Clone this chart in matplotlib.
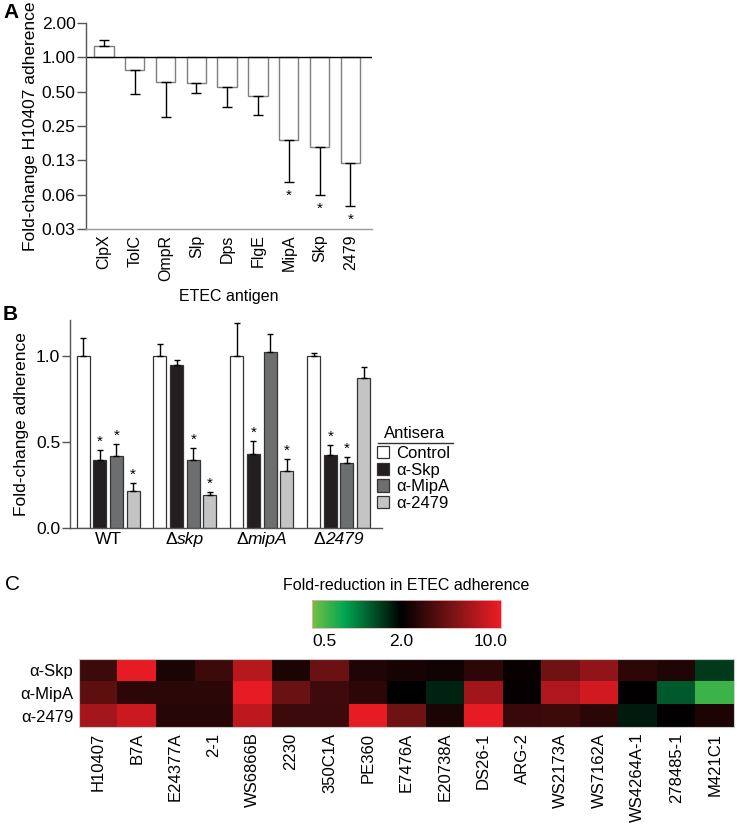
#!/usr/bin/env python3
import numpy as np
import matplotlib
matplotlib.use('Agg')
import matplotlib.pyplot as plt
from matplotlib.patches import Patch
from matplotlib.lines import Line2D
from matplotlib.colors import LinearSegmentedColormap, LogNorm
from matplotlib.offsetbox import TextArea, HPacker, AnnotationBbox

plt.rcParams.update({
    'font.family': ['Liberation Sans', 'DejaVu Sans'],
    'font.size': 12,
    'axes.linewidth': 1.0,
    'axes.edgecolor': '#555555',
})

# Panel A: fold-change H10407 adherence per antigen antiserum
antigens = ['ClpX', 'TolC', 'OmpR', 'Slp', 'Dps', 'FlgE', 'MipA', 'Skp', '2479']
fold_a = [1.26, 0.78, 0.61, 0.59, 0.55, 0.46, 0.19, 0.162, 0.118]
tip_a = [1.43, 0.48, 0.30, 0.49, 0.37, 0.31, 0.081, 0.062, 0.050]
sig_a = [False, False, False, False, False, False, True, True, True]

# Panel B: fold-change adherence per strain and antiserum
strain_prefix = ['', 'Δ', 'Δ', 'Δ']
strain_name = ['WT', 'skp', 'mipA', '2479']
strain_italic = [False, True, True, True]
sera = ['Control', 'α-Skp', 'α-MipA', 'α-2479']
control = [1.0, 1.0, 1.0, 1.0]
control_tip = [1.106, 1.07, 1.19, 1.02]
anti_skp = [0.395, 0.95, 0.428, 0.424]
anti_skp_tip = [0.453, 0.98, 0.504, 0.483]
anti_mipa = [0.42, 0.395, 1.025, 0.378]
anti_mipa_tip = [0.487, 0.463, 1.126, 0.411]
anti_2479 = [0.215, 0.19, 0.333, 0.87]
anti_2479_tip = [0.26, 0.21, 0.403, 0.938]
sig_b = [[False, True, True, True],
         [False, False, True, True],
         [False, True, False, True],
         [False, True, True, False]]
sera_colors = ['white', '#231f20', '#6d6e70', '#c4c4c4']

# Panel C: fold-reduction in adherence across ETEC strains
strains_c = ['H10407', 'B7A', 'E24377A', '2-1', 'WS6866B', '2230', '350C1A', 'PE360',
             'E7476A', 'E20738A', 'DS26-1', 'ARG-2', 'WS2173A', 'WS7162A',
             'WS4264A-1', '278485-1', 'M421C1']
rows_c = ['α-Skp', 'α-MipA', 'α-2479']
red_skp = [3.2, 11.5, 2.45, 3.2, 7.9, 2.45, 4.5, 2.55, 2.4, 2.3, 2.85, 2.15, 4.75, 6.0, 2.85, 2.55, 1.4]
red_mipa = [4.1, 2.85, 2.8, 2.8, 11.5, 4.5, 3.25, 2.85, 2.0, 1.6, 6.8, 2.1, 7.6, 9.8, 2.05, 1.15, 0.53]
red_2479 = [7.0, 9.4, 2.7, 2.7, 8.3, 3.2, 3.2, 11.5, 4.7, 2.45, 11.5, 3.1, 3.2, 2.75, 1.7, 2.05, 2.5]

W, H = 737, 825
fig = plt.figure(figsize=(W / 100, H / 100), dpi=100)


def box(l, t, r, b):
    # pixel box -> figure fraction
    return [l / W, 1 - b / H, (r - l) / W, (b - t) / H]


# ---- Panel A ----
axA = fig.add_axes(box(86, 23, 372, 229))
xa = np.arange(len(antigens))
fold_a = np.array(fold_a)
tip_a = np.array(tip_a)
err_lo = np.where(fold_a < 1, fold_a - tip_a, 0)
err_hi = np.where(fold_a >= 1, tip_a - fold_a, 0)
axA.bar(xa, fold_a - 1, bottom=1, width=0.63, color='white', edgecolor='#7f7f7f', linewidth=1.0)
axA.errorbar(xa, fold_a, yerr=[err_lo, err_hi], fmt='none', ecolor='black',
             elinewidth=1.0, capsize=3.8, capthick=1.0)
for i in range(len(antigens)):
    if sig_a[i]:
        axA.annotate('*', (xa[i], tip_a[i]), xytext=(0, -5), textcoords='offset points',
                     ha='center', va='top', fontsize=11)
axA.set_yscale('log', base=2)
axA.set_ylim(2 ** -5, 2)
axA.set_xlim(-0.58, 8.7)
axA.axhline(1.0, color='black', linewidth=1.0)
axA.set_yticks([2, 1, 0.5, 0.25, 0.125, 0.0625, 0.03125])
axA.set_yticklabels(['2.00', '1.00', '0.50', '0.25', '0.13', '0.06', '0.03'], fontsize=12.5)
axA.minorticks_off()
axA.set_xticks(xa)
axA.set_xticklabels(antigens, rotation=90, fontsize=11.5)
axA.tick_params(axis='x', length=0, pad=4)
axA.tick_params(axis='y', length=6.5, width=1, color='#555555', pad=1)
axA.spines['top'].set_visible(False)
axA.spines['right'].set_visible(False)
axA.spines['bottom'].set_color('#999999')
axA.set_ylabel('Fold-change H10407 adherence', fontsize=12.5, labelpad=3)
axA.set_xlabel('ETEC antigen', fontsize=11.5, labelpad=6)

# ---- Panel B ----
axB = fig.add_axes(box(70, 320, 382, 528))
values = [control, anti_skp, anti_mipa, anti_2479]
tips = [control_tip, anti_skp_tip, anti_mipa_tip, anti_2479_tip]
gap = 4.6
for j in range(4):
    xs = np.arange(4) * gap + j
    v = np.array(values[j])
    t = np.array(tips[j])
    axB.bar(xs, v, width=0.78, color=sera_colors[j], edgecolor='#333333', linewidth=0.9)
    axB.errorbar(xs, v, yerr=[np.zeros(4), t - v], fmt='none', ecolor='black',
                 elinewidth=1.0, capsize=2.5, capthick=1.0)
    for i in range(4):
        if sig_b[i][j]:
            axB.annotate('*', (xs[i], t[i]), xytext=(0, 1), textcoords='offset points',
                         ha='center', va='bottom', fontsize=11)
axB.set_xlim(-0.78, 17.9)
axB.set_ylim(0, 1.21)
axB.set_yticks([0.0, 0.5, 1.0])
axB.set_yticklabels(['0.0', '0.5', '1.0'], fontsize=12.5)
axB.set_xticks(np.arange(4) * gap + 1.5)
axB.set_xticklabels([])
axB.tick_params(axis='x', length=0)
axB.tick_params(axis='y', length=6, width=1, color='#555555', pad=1)
axB.spines['top'].set_visible(False)
axB.spines['right'].set_visible(False)
axB.set_ylabel('Fold-change adherence', fontsize=12.5, labelpad=5)

# strain labels: upright delta, italic gene name
for i in range(4):
    parts = []
    if strain_prefix[i]:
        parts.append(TextArea(strain_prefix[i], textprops=dict(fontsize=12.5)))
    parts.append(TextArea(strain_name[i], textprops=dict(
        fontsize=12.5, style='italic' if strain_italic[i] else 'normal')))
    pack = HPacker(children=parts, align='baseline', pad=0, sep=0)
    ab = AnnotationBbox(pack, (i * gap + 1.5, 0), xycoords=('data', 'axes fraction'),
                        box_alignment=(0.5, 1), xybox=(0, -3), boxcoords='offset points',
                        frameon=False, pad=0)
    axB.add_artist(ab)

handles = [Patch(facecolor=c, edgecolor='#333333', linewidth=0.9) for c in sera_colors]
fig.legend(handles, sera, loc='upper left', bbox_to_anchor=(377 / W, 1 - 446 / H),
           frameon=False, fontsize=12, handlelength=0.7, handleheight=0.75,
           handletextpad=0.45, labelspacing=0.1, borderaxespad=0, borderpad=0)
fig.text(415 / W, 1 - 434 / H, 'Antisera', ha='center', va='center', fontsize=12)
fig.add_artist(Line2D([378 / W, 453 / W], [1 - 443 / H, 1 - 443 / H],
                      color='#333333', linewidth=1.0))

# ---- Panel C ----
cmap = LinearSegmentedColormap.from_list(
    'gkr', [(0.0, '#76c043'), (0.17, '#00a651'), (0.473, '#000000'),
            (0.75, '#7a1416'), (1.0, '#ed1c24')])
norm = LogNorm(vmin=0.4, vmax=12)

axC = fig.add_axes(box(79, 659, 734, 727))
grid = np.array([red_skp, red_mipa, red_2479])
im = axC.imshow(grid, cmap=cmap, norm=norm, aspect='auto', interpolation='nearest')
axC.set_xticks(np.arange(len(strains_c)))
axC.set_xticklabels(strains_c, rotation=90, fontsize=12)
axC.set_yticks(np.arange(len(rows_c)))
axC.set_yticklabels(rows_c, fontsize=12)
axC.tick_params(length=0, pad=4)
for s in axC.spines.values():
    s.set_color('#cccccc')
    s.set_linewidth(0.8)

cax = fig.add_axes(box(312, 600, 501, 628))
cb = fig.colorbar(im, cax=cax, orientation='horizontal')
cb.set_ticks([0.5, 2.0, 10.0])
cb.set_ticklabels(['0.5', '2.0', '10.0'])
cb.ax.minorticks_off()
cb.ax.tick_params(length=0, pad=4, labelsize=12.5)
cb.outline.set_edgecolor('#f0b0b0')
cb.outline.set_linewidth(0.6)
fig.text(406 / W, 1 - 585 / H, 'Fold-reduction in ETEC adherence', ha='center', va='center',
         fontsize=11.5)

# panel letters
fig.text(3 / W, 1 - 12 / H, 'A', fontsize=15, fontweight='bold', va='center')
fig.text(3 / W, 1 - 315 / H, 'B', fontsize=15, fontweight='bold', va='center')
fig.text(5 / W, 1 - 585 / H, 'C', fontsize=15, va='center')

fig.savefig('out.png', dpi=100)
